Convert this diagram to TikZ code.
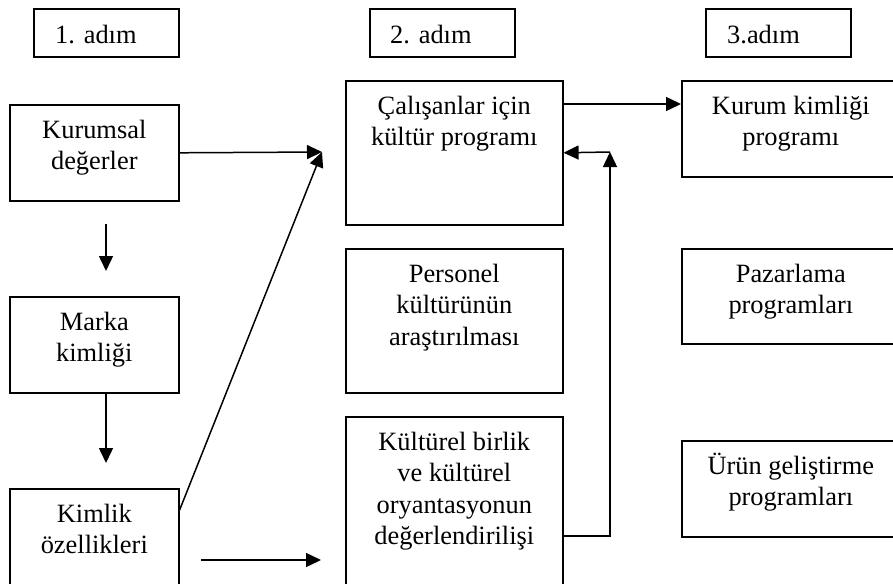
\documentclass[tikz,border=0pt]{standalone}
\usepackage{fontspec}
\setmainfont{Liberation Serif}
\usetikzlibrary{arrows.meta,calc}
% invisible strut fixing the height of the first text line
\newcommand{\lblstrut}{\rule{0pt}{24pt}}
\begin{document}
\begin{tikzpicture}[x=1pt,y=-1pt,
  box/.style={draw, line width=1.6pt, inner sep=0pt, anchor=north west},
  lbl/.style={inner sep=0pt, align=center, anchor=north,
    font=\fontsize{26.4}{31.5}\selectfont},
  head/.style={inner sep=0pt, anchor=north west,
    font=\fontsize{26.4}{31.5}\selectfont},
  arr/.style={line width=1.5pt, -{Triangle[length=15pt,width=14pt]}}]
\useasboundingbox (0,0) rectangle (893,583);

% step headers
\node[box, minimum width=145, minimum height=48] (h1) at (33,8) {};
\node[box, minimum width=145, minimum height=48] (h2) at (369,8) {};
\node[box, minimum width=145, minimum height=48] (h3) at (705,8) {};
\node[head] (h1-t) at ($(h1.north west)+(22,11)$) {\lblstrut 1. adım};
\node[head] (h2-t) at ($(h2.north west)+(21,11)$) {\lblstrut 2. adım};
\node[head] (h3-t) at ($(h3.north west)+(22,11)$) {\lblstrut 3.adım};

% column 1
\node[box, minimum width=169, minimum height=96] (kur) at (9,104) {};
\node[box, minimum width=169, minimum height=96] (mar) at (9,296) {};
\node[box, minimum width=169, minimum height=110] (kim) at (9,488) {};
\node[lbl] (kur-t) at ($(kur.north)+(0,10)$) {\lblstrut Kurumsal\\değerler};
\node[lbl] (mar-t) at ($(mar.north)+(0,10)$) {\lblstrut Marka\\kimliği};
\node[lbl] (kim-t) at ($(kim.north)+(0,10)$) {\lblstrut Kimlik\\özellikleri};

% column 2
\node[box, minimum width=217, minimum height=144] (cal) at (345,80) {};
\node[box, minimum width=217, minimum height=144] (per) at (345,248) {};
\node[box, minimum width=217, minimum height=180] (kul) at (345,416) {};
\node[lbl] (cal-t) at ($(cal.north)+(0,10)$) {\lblstrut Çalışanlar için\\kültür programı};
\node[lbl] (per-t) at ($(per.north)+(0,10)$) {\lblstrut Personel\\kültürünün\\araştırılması};
\node[lbl] (kul-t) at ($(kul.north)+(0,10)$) {\lblstrut Kültürel birlik\\ve kültürel\\oryantasyonun\\değerlendirilişi};

% column 3
\node[box, minimum width=218, minimum height=96] (kk) at (681,80) {};
\node[box, minimum width=218, minimum height=95] (paz) at (681,248) {};
\node[box, minimum width=218, minimum height=96] (urun) at (681,440) {};
\node[lbl] (kk-t) at ($(kk.north)+(0,10)$) {\lblstrut Kurum kimliği\\programı};
\node[lbl] (paz-t) at ($(paz.north)+(0,10)$) {\lblstrut Pazarlama\\programları};
\node[lbl] (urun-t) at ($(urun.north)+(0,10)$) {\lblstrut Ürün geliştirme\\programları};

% connector end points
\coordinate (meet) at (322,152);
\coordinate (kimout) at ($(kim.north east)+(0,22)$);
\coordinate (d1a) at (106,224);
\coordinate (d1b) at (106,271);
\coordinate (d2b) at (106,463);
\coordinate (e1a) at (201,560);
\coordinate (e1b) at (321,560);
\coordinate (calout) at ($(cal.north east)+(0,24)$);
\coordinate (kkin) at ($(kk.north west)+(0,24)$);
\coordinate (kulout) at ($(kul.north east)+(0,120)$);
\coordinate (fb) at (610,152);

% connectors
\draw[arr] (kur.east) -- (meet);
\draw[arr] (kimout) -- (meet);
\draw[arr] (d1a) -- (d1b);
\draw[arr] (mar.south -| d2b) -- (d2b);
\draw[arr] (e1a) -- (e1b);
\draw[arr] (calout) -- (kkin);
\draw[arr] (kulout) -| (fb);
\draw[arr] (fb) -- (cal.east);
\end{tikzpicture}
\end{document}
